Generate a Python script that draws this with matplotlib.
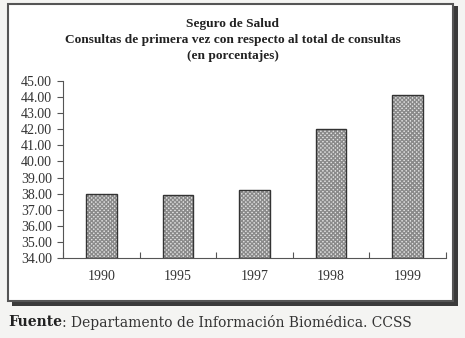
import matplotlib.pyplot as plt
from matplotlib.patches import Rectangle

# Data
years = ['1990', '1995', '1997', '1998', '1999']
pct = [37.95, 37.90, 38.25, 42.00, 44.15]
yticks = [34 + i for i in range(12)]

title = ("Seguro de Salud\n"
         "Consultas de primera vez con respecto al total de consultas\n"
         "(en porcentajes)")

fig = plt.figure(figsize=(4.65, 3.38), dpi=100)
fig.patch.set_facecolor('#f4f4f2')

# Framed panel with shadow
fig.patches.append(Rectangle((12 / 465, 1 - 306 / 338), 446 / 465, 300 / 338,
                             transform=fig.transFigure, facecolor='#3a3a3a',
                             edgecolor='none', zorder=0))
fig.patches.append(Rectangle((8 / 465, 1 - 301 / 338), 445 / 465, 297 / 338,
                             transform=fig.transFigure, facecolor='white',
                             edgecolor='#555555', lw=1.5, zorder=1))

ax = fig.add_axes([63 / 465, 1 - 258 / 338, 383 / 465, 177 / 338])
ax.set_facecolor('none')
ax.set_zorder(2)

x = range(len(years))
# hatched fill, then the dark outline
ax.bar(x, [v - 34 for v in pct], bottom=34, width=0.4, color='#e2e2e2',
       edgecolor='#8a8a8a', hatch='xxxxxxxx', lw=0)
ax.bar(x, [v - 34 for v in pct], bottom=34, width=0.4, fill=False,
       edgecolor='#333333', lw=1.0)

ax.set_xlim(-0.5, 4.5)
ax.set_ylim(34, 45)
ax.set_yticks(yticks)
ax.set_yticklabels(['%.2f' % t for t in yticks], family='Liberation Serif',
                   fontsize=10, color='#333333')
ax.set_xticks([i - 0.5 for i in range(6)])
ax.set_xticklabels([])
ax.set_xticks(list(x), minor=True)
ax.set_xticklabels(years, minor=True, family='Liberation Serif', fontsize=10,
                   color='#333333')
ax.tick_params(axis='x', which='minor', length=0, pad=9)
ax.tick_params(axis='x', which='major', length=4, direction='in', color='#555555')
ax.tick_params(axis='y', length=4, direction='out', color='#555555', pad=4)
for s in ['top', 'right']:
    ax.spines[s].set_visible(False)
for s in ['left', 'bottom']:
    ax.spines[s].set_color('#555555')
    ax.spines[s].set_linewidth(0.8)

fig.text(0.5, 1 - 40 / 338, title, ha='center', va='center',
         family='Liberation Serif', fontweight='bold', fontsize=9.6,
         linespacing=1.45, color='#222222')

t1 = fig.text(8 / 465, 1 - 322 / 338, 'Fuente', ha='left', va='center',
              family='DejaVu Serif', fontweight='bold', fontsize=10,
              color='#222222')
fig.canvas.draw()
bb = t1.get_window_extent().transformed(fig.transFigure.inverted())
fig.text(bb.x1, 1 - 322 / 338, ': Departamento de Información Biomédica. CCSS',
         ha='left', va='center', family='DejaVu Serif', fontsize=10,
         color='#333333')

fig.savefig('out.png', dpi=100, facecolor=fig.get_facecolor())
